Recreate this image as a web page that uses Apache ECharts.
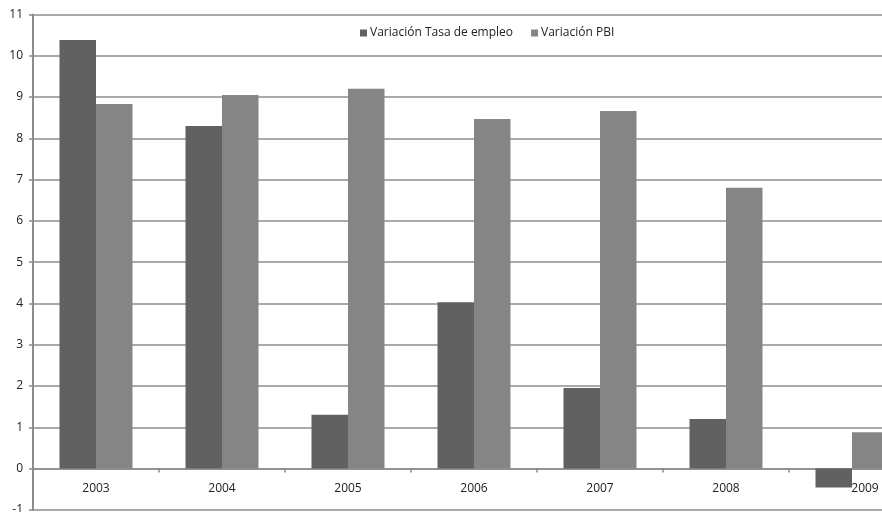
<!DOCTYPE html>
<html>
<head>
<meta charset="utf-8">
<script src="https://cdn.jsdelivr.net/npm/echarts@6/dist/echarts.min.js"></script>
<style>
  html, body { margin: 0; padding: 0; background: #fff; overflow: hidden; }
  #chart { width: 882px; height: 512px; }
</style>
</head>
<body>
<div id="chart"></div>
<script>
// Annual variation (%) of employment rate and GDP
var years = ['2003', '2004', '2005', '2006', '2007', '2008', '2009'];
var empleo = [10.38, 8.30, 1.30, 4.03, 1.95, 1.20, -0.46];
var pbi = [8.83, 9.05, 9.20, 8.47, 8.66, 6.80, 0.88];
var yTicks = { min: -1, max: 11, step: 1 };

var chart = echarts.init(document.getElementById('chart'), null, { renderer: 'canvas' });
var font = '"Open Sans", "DejaVu Sans", sans-serif';
var plotHeight = 495.3;
// pixel distance from the -1 floor up to the zero line
var unitPx = plotHeight / (yTicks.max - yTicks.min);

chart.setOption({
  animation: false,
  backgroundColor: '#ffffff',
  textStyle: { fontFamily: font },
  legend: {
    left: 355,
    top: 22,
    itemWidth: 7,
    itemHeight: 7,
    itemGap: 18,
    icon: 'rect',
    textStyle: { fontSize: 12, color: '#222', fontFamily: font, padding: [0, 0, 0, -2] },
    data: ['Variación Tasa de empleo', 'Variación PBI']
  },
  grid: {
    left: 33, top: 14.5, width: 882, height: plotHeight,
    containLabel: false,
    outerBoundsMode: 'none'
  },
  xAxis: [
    {
      type: 'category',
      data: years,
      axisLine: { onZero: true, lineStyle: { color: '#8c8c8c', width: 1.5 } },
      axisTick: { show: true, alignWithLabel: false, length: 4, lineStyle: { color: '#8c8c8c', width: 1.5 } },
      axisLabel: { show: false },
      splitLine: { show: false }
    },
    {
      // year labels hanging just under the zero line
      type: 'category',
      data: years,
      position: 'bottom',
      offset: -unitPx,
      axisLine: { show: false },
      axisTick: { show: false },
      axisLabel: {
        color: '#222', fontSize: 12, margin: 14, fontFamily: font,
        // the last label is nudged inward so it stays on the page
        formatter: function (v, i) { return i === years.length - 1 ? '{edge|' + v + '}' : v; },
        rich: { edge: { color: '#222', fontSize: 12, fontFamily: font, padding: [0, 0, 0, 26] } }
      },
      splitLine: { show: false }
    }
  ],
  yAxis: {
    type: 'value',
    min: yTicks.min,
    max: yTicks.max,
    interval: yTicks.step,
    axisLine: { show: true, lineStyle: { color: '#8c8c8c', width: 2 } },
    axisTick: { show: true, length: 4, lineStyle: { color: '#8c8c8c', width: 1.5 } },
    axisLabel: { color: '#222', fontSize: 12, margin: 10, fontFamily: font },
    splitLine: { show: true, lineStyle: { color: '#8c8c8c', width: 1.5 } }
  },
  series: [
    {
      name: 'Variación Tasa de empleo',
      type: 'bar',
      xAxisIndex: 0,
      data: empleo,
      barWidth: 36.5,
      barGap: '0%',
      itemStyle: { color: '#616161' }
    },
    {
      name: 'Variación PBI',
      type: 'bar',
      xAxisIndex: 0,
      data: pbi,
      barWidth: 36.5,
      itemStyle: { color: '#858585' }
    }
  ]
});
</script>
</body>
</html>
